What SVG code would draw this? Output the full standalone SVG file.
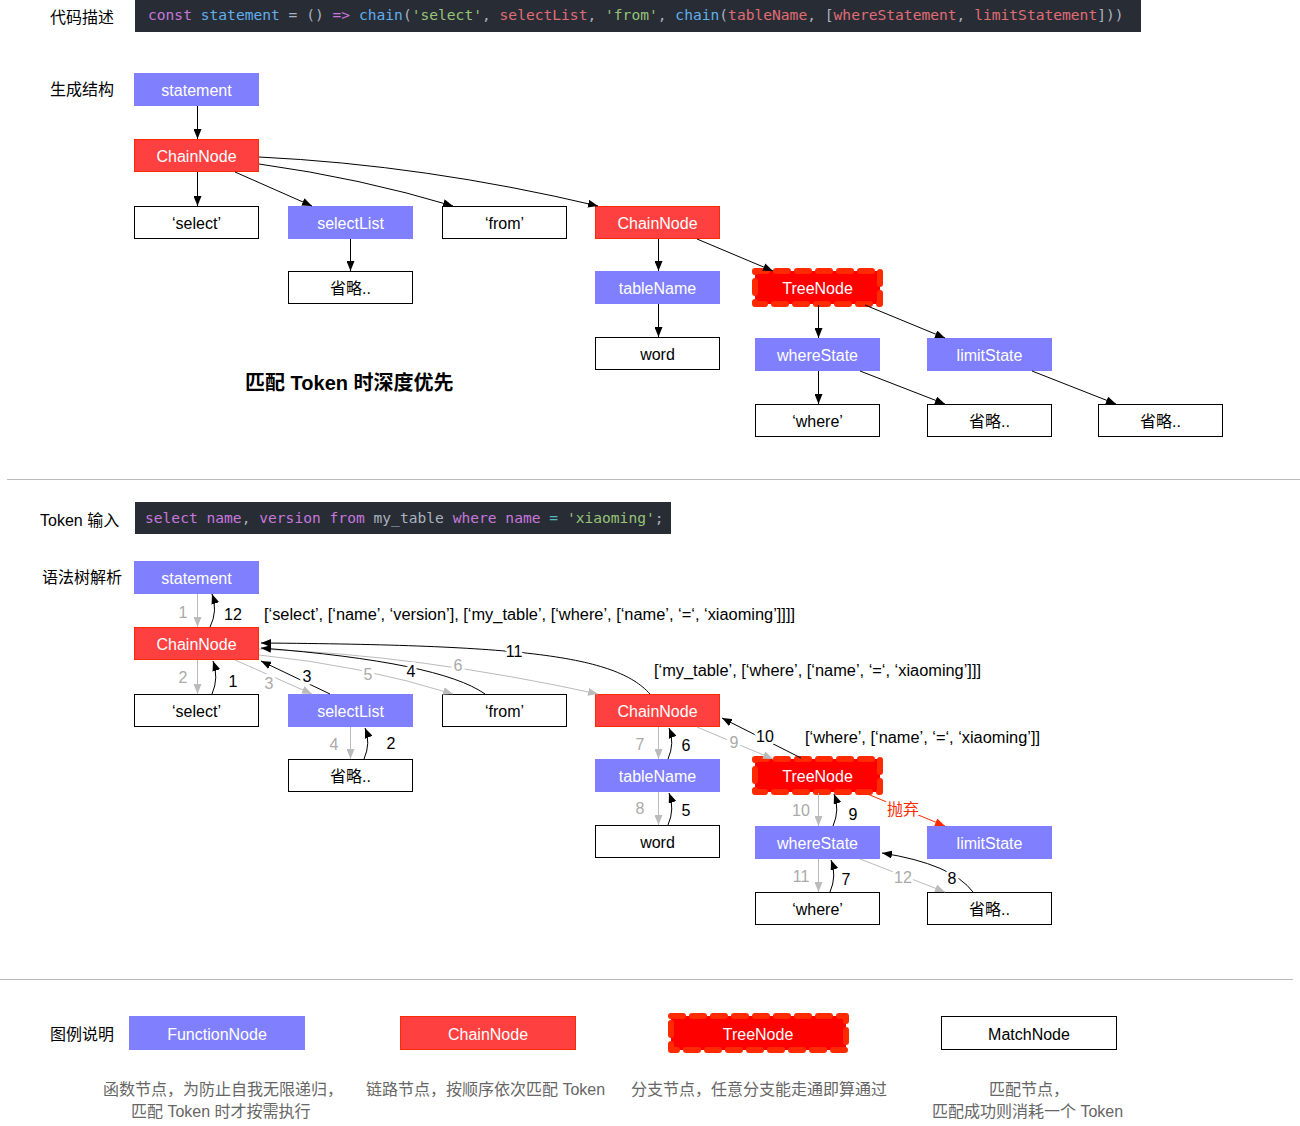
<svg xmlns="http://www.w3.org/2000/svg" width="1300" height="1126" viewBox="0 0 1300 1126">
<style>
text{font-family:"Liberation Sans","Noto Sans CJK SC",sans-serif;font-size:16px}
.c{text-anchor:middle}
.w{fill:#fff}
.fn{fill:#8080ff}
.ch{fill:#ff4040;stroke:#ff2a00;stroke-width:1}
.tr{fill:#ff0000;stroke:#ff2a00;stroke-width:6;stroke-dasharray:12 9;stroke-linecap:round;stroke-linejoin:round}
.mt{fill:#fff;stroke:#000;stroke-width:1}
.code{font-family:"DejaVu Sans Mono","Liberation Mono",monospace;font-size:14.6px}
.k{fill:#c678dd}.b{fill:#61afef}.g{fill:#98c379}.r{fill:#e06c75}.p{fill:#abb2bf}.cy{fill:#56b6c2}
.lk{fill:none;stroke:#000;stroke-width:1}
.lg{fill:none;stroke:#bbb;stroke-width:1}
.lr{fill:none;stroke:#ff2a00;stroke-width:1}
.n{text-anchor:middle;paint-order:stroke;stroke:#fff;stroke-width:6px;stroke-linejoin:round}
.ng{fill:#aaa}
.desc{fill:#666}
</style>
<defs>
<marker id="ak" viewBox="0 0 10 8" refX="10" refY="4" markerWidth="10" markerHeight="8" markerUnits="userSpaceOnUse" orient="auto"><path d="M0,0L10,4L0,8z" fill="#000"/></marker>
<marker id="ag" viewBox="0 0 10 8" refX="10" refY="4" markerWidth="10" markerHeight="8" markerUnits="userSpaceOnUse" orient="auto"><path d="M0,0L10,4L0,8z" fill="#bbb"/></marker>
<marker id="ar" viewBox="0 0 10 8" refX="10" refY="4" markerWidth="10" markerHeight="8" markerUnits="userSpaceOnUse" orient="auto"><path d="M0,0L10,4L0,8z" fill="#ff2a00"/></marker>
</defs>

<!-- section labels -->
<g id="labels">
<text x="50" y="23">代码描述</text>
<text x="50" y="95">生成结构</text>
<text x="245" y="390" style="font-size:20px;font-weight:bold">匹配 Token 时深度优先</text>
<text x="40" y="526">Token 输入</text>
<text x="42" y="583">语法树解析</text>
<text x="50" y="1040">图例说明</text>
</g>

<!-- code bars -->
<g id="code-desc">
<rect x="135" y="0" width="1006" height="32" fill="#282c34"/>
<text x="148" y="20" class="code"><tspan class="k">const</tspan> <tspan class="b">statement</tspan> <tspan class="p">=</tspan> <tspan class="p">()</tspan> <tspan class="k">=&gt;</tspan> <tspan class="b">chain</tspan><tspan class="p">(</tspan><tspan class="g">'select'</tspan><tspan class="p">,</tspan> <tspan class="r">selectList</tspan><tspan class="p">,</tspan> <tspan class="g">'from'</tspan><tspan class="p">,</tspan> <tspan class="b">chain</tspan><tspan class="p">(</tspan><tspan class="r">tableName</tspan><tspan class="p">,</tspan> <tspan class="p">[</tspan><tspan class="r">whereStatement</tspan><tspan class="p">,</tspan> <tspan class="r">limitStatement</tspan><tspan class="p">]))</tspan></text>
</g>
<g id="token-input">
<rect x="135" y="502" width="536" height="32" fill="#282c34"/>
<text x="145" y="523" class="code"><tspan class="k">select</tspan> <tspan class="k">name</tspan><tspan class="p">,</tspan> <tspan class="k">version</tspan> <tspan class="k">from</tspan> <tspan class="p">my_table</tspan> <tspan class="k">where</tspan> <tspan class="k">name</tspan> <tspan class="cy">=</tspan> <tspan class="g">'xiaoming'</tspan><tspan class="p">;</tspan></text>
</g>

<!-- dividers -->
<g id="dividers">
<line x1="7" y1="479.5" x2="1300" y2="479.5" stroke="#bbb" stroke-width="1"/>
<line x1="0" y1="979.5" x2="1293" y2="979.5" stroke="#bbb" stroke-width="1"/>
</g>

<!-- ===== top structure nodes ===== -->
<g id="t-statement"><rect x="134" y="73" width="125" height="33" class="fn"/><text x="196.5" y="95.5" class="c w">statement</text></g>
<g id="t-chain1"><rect x="134.5" y="139.5" width="124" height="32" class="ch"/><text x="196.5" y="161.5" class="c w">ChainNode</text></g>
<g id="t-select"><rect x="134.5" y="206.5" width="124" height="32" class="mt"/><text x="196.5" y="228.5" class="c">‘select’</text></g>
<g id="t-selectList"><rect x="288" y="206" width="125" height="33" class="fn"/><text x="350.5" y="228.5" class="c w">selectList</text></g>
<g id="t-from"><rect x="442.5" y="206.5" width="124" height="32" class="mt"/><text x="504.5" y="228.5" class="c">‘from’</text></g>
<g id="t-chain2"><rect x="595.5" y="206.5" width="124" height="32" class="ch"/><text x="657.5" y="228.5" class="c w">ChainNode</text></g>
<g id="t-omit1"><rect x="288.5" y="271.5" width="124" height="32" class="mt"/><text x="350.5" y="293.5" class="c">省略..</text></g>
<g id="t-tableName"><rect x="595" y="271" width="125" height="33" class="fn"/><text x="657.5" y="293.5" class="c w">tableName</text></g>
<g id="t-tree"><rect x="755" y="271" width="125" height="33" class="tr"/><text x="817.5" y="293.5" class="c w">TreeNode</text></g>
<g id="t-word"><rect x="595.5" y="337.5" width="124" height="32" class="mt"/><text x="657.5" y="359.5" class="c">word</text></g>
<g id="t-whereState"><rect x="755" y="338" width="125" height="33" class="fn"/><text x="817.5" y="360.5" class="c w">whereState</text></g>
<g id="t-limitState"><rect x="927" y="338" width="125" height="33" class="fn"/><text x="989.5" y="360.5" class="c w">limitState</text></g>
<g id="t-where"><rect x="755.5" y="404.5" width="124" height="32" class="mt"/><text x="817.5" y="426.5" class="c">‘where’</text></g>
<g id="t-omit2"><rect x="927.5" y="404.5" width="124" height="32" class="mt"/><text x="989.5" y="426.5" class="c">省略..</text></g>
<g id="t-omit3"><rect x="1098.5" y="404.5" width="124" height="32" class="mt"/><text x="1160.5" y="426.5" class="c">省略..</text></g>

<g id="t-connectors">
<path d="M197.5,106V139" class="lk" marker-end="url(#ak)"/>
<path d="M197.5,172V206" class="lk" marker-end="url(#ak)"/>
<path d="M235,172L312,206" class="lk" marker-end="url(#ak)"/>
<path d="M259,164Q360,178 453,206" class="lk" marker-end="url(#ak)"/>
<path d="M259,157Q425,165 598,206" class="lk" marker-end="url(#ak)"/>
<path d="M350.5,239V271" class="lk" marker-end="url(#ak)"/>
<path d="M658.5,239V271" class="lk" marker-end="url(#ak)"/>
<path d="M697,239L773,271" class="lk" marker-end="url(#ak)"/>
<path d="M658.5,304V337" class="lk" marker-end="url(#ak)"/>
<path d="M818.5,305V338" class="lk" marker-end="url(#ak)"/>
<path d="M865,305L945,338" class="lk" marker-end="url(#ak)"/>
<path d="M818.5,371V404" class="lk" marker-end="url(#ak)"/>
<path d="M860,371L945,404" class="lk" marker-end="url(#ak)"/>
<path d="M1032,371L1116,404" class="lk" marker-end="url(#ak)"/>
</g>

<!-- ===== parse nodes ===== -->
<g id="p-statement"><rect x="134" y="561" width="125" height="33" class="fn"/><text x="196.5" y="583.5" class="c w">statement</text></g>
<g id="p-chain1"><rect x="134.5" y="627.5" width="124" height="32" class="ch"/><text x="196.5" y="649.5" class="c w">ChainNode</text></g>
<g id="p-select"><rect x="134.5" y="694.5" width="124" height="32" class="mt"/><text x="196.5" y="716.5" class="c">‘select’</text></g>
<g id="p-selectList"><rect x="288" y="694" width="125" height="33" class="fn"/><text x="350.5" y="716.5" class="c w">selectList</text></g>
<g id="p-from"><rect x="442.5" y="694.5" width="124" height="32" class="mt"/><text x="504.5" y="716.5" class="c">‘from’</text></g>
<g id="p-chain2"><rect x="595.5" y="694.5" width="124" height="32" class="ch"/><text x="657.5" y="716.5" class="c w">ChainNode</text></g>
<g id="p-omit1"><rect x="288.5" y="759.5" width="124" height="32" class="mt"/><text x="350.5" y="781.5" class="c">省略..</text></g>
<g id="p-tableName"><rect x="595" y="759" width="125" height="33" class="fn"/><text x="657.5" y="781.5" class="c w">tableName</text></g>
<g id="p-tree"><rect x="755" y="759" width="125" height="33" class="tr"/><text x="817.5" y="781.5" class="c w">TreeNode</text></g>
<g id="p-word"><rect x="595.5" y="825.5" width="124" height="32" class="mt"/><text x="657.5" y="847.5" class="c">word</text></g>
<g id="p-whereState"><rect x="755" y="826" width="125" height="33" class="fn"/><text x="817.5" y="848.5" class="c w">whereState</text></g>
<g id="p-limitState"><rect x="927" y="826" width="125" height="33" class="fn"/><text x="989.5" y="848.5" class="c w">limitState</text></g>
<g id="p-where"><rect x="755.5" y="892.5" width="124" height="32" class="mt"/><text x="817.5" y="914.5" class="c">‘where’</text></g>
<g id="p-omit2"><rect x="927.5" y="892.5" width="124" height="32" class="mt"/><text x="989.5" y="914.5" class="c">省略..</text></g>

<g id="p-results">
<text x="264" y="619.5" textLength="531" lengthAdjust="spacingAndGlyphs">[‘select’, [‘name’, ‘version’], [‘my_table’, [‘where’, [‘name’, ‘=‘, ‘xiaoming’]]]]</text>
<text x="654" y="675.5" textLength="327" lengthAdjust="spacingAndGlyphs">[‘my_table’, [‘where’, [‘name’, ‘=‘, ‘xiaoming’]]]</text>
<text x="805" y="742.5" textLength="235" lengthAdjust="spacingAndGlyphs">[‘where’, [‘name’, ‘=‘, ‘xiaoming’]]</text>
</g>

<g id="p-connectors">
<!-- gray forward -->
<path d="M197.5,594V627" class="lg" marker-end="url(#ag)"/>
<path d="M197.5,660V694" class="lg" marker-end="url(#ag)"/>
<path d="M235,660L312,694" class="lg" marker-end="url(#ag)"/>
<path d="M259,655Q360,665 453,694" class="lg" marker-end="url(#ag)"/>
<path d="M259,649Q420,655 598,694" class="lg" marker-end="url(#ag)"/>
<path d="M350.5,727V759" class="lg" marker-end="url(#ag)"/>
<path d="M658.5,727V759" class="lg" marker-end="url(#ag)"/>
<path d="M697,727L773,759" class="lg" marker-end="url(#ag)"/>
<path d="M658.5,792V825" class="lg" marker-end="url(#ag)"/>
<path d="M818.5,793V826" class="lg" marker-end="url(#ag)"/>
<path d="M818.5,859V892" class="lg" marker-end="url(#ag)"/>
<path d="M860,859L945,892" class="lg" marker-end="url(#ag)"/>
<!-- black returns -->
<path d="M210,627Q218,611 212,594" class="lk" marker-end="url(#ak)"/>
<path d="M212,694Q219,678 213,661" class="lk" marker-end="url(#ak)"/>
<path d="M330,694L261,661" class="lk" marker-end="url(#ak)"/>
<path d="M485,694Q440,662 261,648" class="lk" marker-end="url(#ak)"/>
<path d="M650,694C615,655 520,645 261,643" class="lk" marker-end="url(#ak)"/>
<path d="M364,759Q371,743 365,728" class="lk" marker-end="url(#ak)"/>
<path d="M668,759Q675,743 669,728" class="lk" marker-end="url(#ak)"/>
<path d="M801,758L722,718" class="lk" marker-end="url(#ak)"/>
<path d="M668,825Q675,809 669,793" class="lk" marker-end="url(#ak)"/>
<path d="M833,826Q840,810 834,794" class="lk" marker-end="url(#ak)"/>
<path d="M830,892Q837,876 831,860" class="lk" marker-end="url(#ak)"/>
<path d="M973,892Q952,864 882,853" class="lk" marker-end="url(#ak)"/>
<!-- discard -->
<path d="M865,793L945,826" class="lr" marker-end="url(#ar)"/>
<!-- labels -->
<text x="183" y="618" class="n ng">1</text>
<text x="233" y="620" class="n">12</text>
<text x="183" y="683" class="n ng">2</text>
<text x="233" y="687" class="n">1</text>
<text x="269" y="689" class="n ng">3</text>
<text x="307" y="682" class="n">3</text>
<text x="368" y="680" class="n ng">5</text>
<text x="411" y="677" class="n">4</text>
<text x="458" y="671" class="n ng">6</text>
<text x="514" y="657" class="n">11</text>
<text x="334" y="750" class="n ng">4</text>
<text x="391" y="749" class="n">2</text>
<text x="640" y="750" class="n ng">7</text>
<text x="686" y="751" class="n">6</text>
<text x="734" y="748" class="n ng">9</text>
<text x="765" y="742" class="n">10</text>
<text x="640" y="814" class="n ng">8</text>
<text x="686" y="816" class="n">5</text>
<text x="801" y="816" class="n ng">10</text>
<text x="853" y="820" class="n">9</text>
<text x="903" y="815" class="n" style="fill:#ff2a00">抛弃</text>
<text x="801" y="882" class="n ng">11</text>
<text x="846" y="885" class="n">7</text>
<text x="903" y="883" class="n ng">12</text>
<text x="952" y="884" class="n">8</text>
</g>

<!-- ===== legend ===== -->
<g id="lg-function"><rect x="129" y="1016" width="176" height="34" class="fn"/><text x="217" y="1039.5" class="c w">FunctionNode</text></g>
<g id="lg-chain"><rect x="400.5" y="1016.5" width="175" height="33" class="ch"/><text x="488" y="1039.5" class="c w">ChainNode</text></g>
<g id="lg-tree"><rect x="671" y="1016" width="175" height="34" class="tr"/><text x="758" y="1039.5" class="c w">TreeNode</text></g>
<g id="lg-match"><rect x="941.5" y="1016.5" width="175" height="33" class="mt"/><text x="1029" y="1039.5" class="c">MatchNode</text></g>
<g id="lg-desc">
<text x="103" y="1095" class="desc">函数节点，为防止自我无限递归，</text>
<text x="131" y="1117" class="desc">匹配 Token 时才按需执行</text>
<text x="366" y="1095" class="desc">链路节点，按顺序依次匹配 Token</text>
<text x="631" y="1095" class="desc">分支节点，任意分支能走通即算通过</text>
<text x="989" y="1095" class="desc">匹配节点，</text>
<text x="932" y="1117" class="desc">匹配成功则消耗一个 Token</text>
</g>
</svg>
